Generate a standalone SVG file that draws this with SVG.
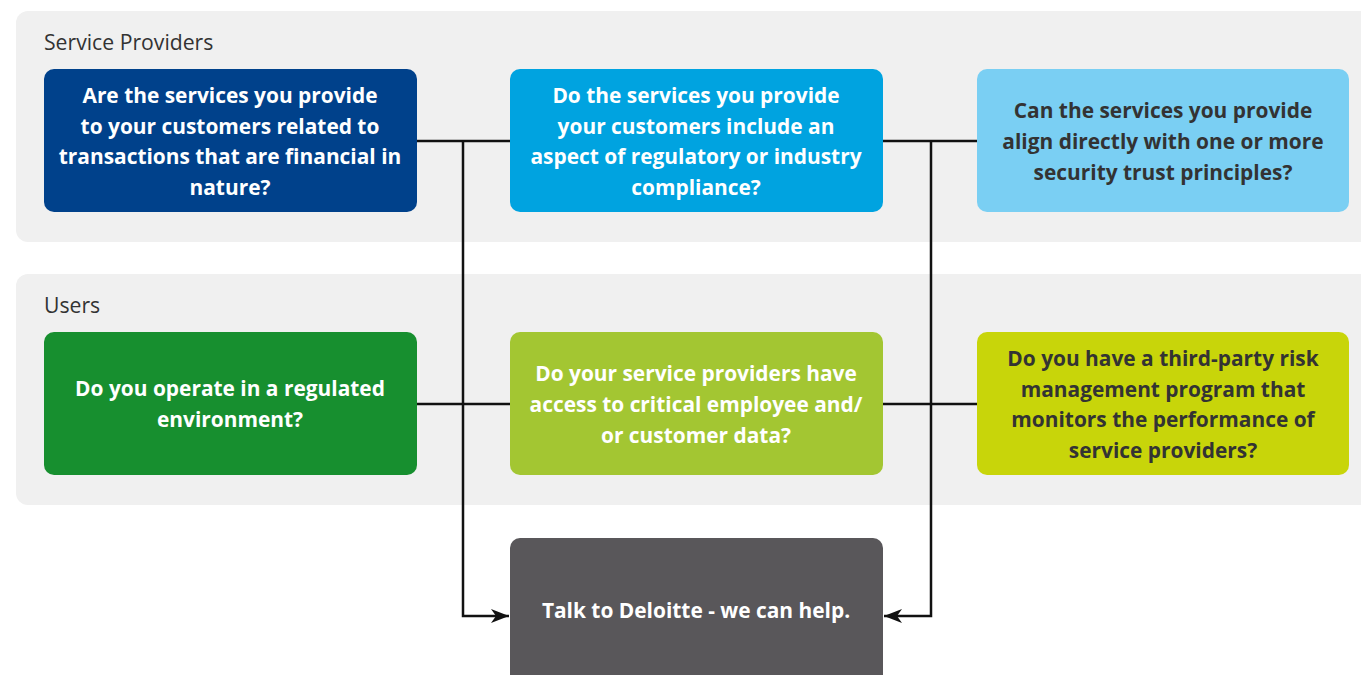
<svg xmlns="http://www.w3.org/2000/svg" width="1361" height="675" viewBox="0 0 1361 675">
<defs>
<style>
.panel{fill:#f0f0f0}
.lbl{font-family:"Open Sans",sans-serif;font-size:21.2px;fill:#333}
.t{font-family:"Open Sans",sans-serif;font-size:20.9px;font-weight:bold;fill:#fff;text-anchor:middle}
.d{fill:#333}
.c{fill:none;stroke:#111;stroke-width:2.5}
</style>
<marker id="a" viewBox="0 0 18 14" refX="18" refY="7" markerWidth="18" markerHeight="14" markerUnits="userSpaceOnUse" orient="auto"><path d="M0,0 L18,7 L0,14 L5,7 z" fill="#111"/></marker>
</defs>
<rect x="16" y="11" width="1360" height="231" rx="12" class="panel"/>
<rect x="16" y="274" width="1360" height="231" rx="12" class="panel"/>
<text x="44" y="50" class="lbl">Service Providers</text>
<text x="44" y="313" class="lbl">Users</text>
<g id="connectors">
<path class="c" d="M417,141 H510"/>
<path class="c" d="M883,141 H977"/>
<path class="c" d="M417,404 H510"/>
<path class="c" d="M883,404 H977"/>
<path class="c" d="M463,141 V616 H509" marker-end="url(#a)"/>
<path class="c" d="M931,141 V616 H884" marker-end="url(#a)"/>
</g>
<g id="n1"><rect x="44" y="69" width="373" height="143" rx="10" fill="#00418B"/>
<text class="t"><tspan x="230" y="103">Are the services you provide</tspan><tspan x="230" y="134">to your customers related to</tspan><tspan x="230" y="164">transactions that are financial in</tspan><tspan x="230" y="195">nature?</tspan></text></g>
<g id="n2"><rect x="510" y="69" width="373" height="143" rx="10" fill="#00A3E0"/>
<text class="t"><tspan x="696" y="103">Do the services you provide</tspan><tspan x="696" y="134">your customers include an</tspan><tspan x="696" y="164">aspect of regulatory or industry</tspan><tspan x="696" y="195">compliance?</tspan></text></g>
<g id="n3"><rect x="977" y="69" width="372" height="143" rx="10" fill="#7ACFF3"/>
<text class="t d"><tspan x="1163" y="118">Can the services you provide</tspan><tspan x="1163" y="149">align directly with one or more</tspan><tspan x="1163" y="180">security trust principles?</tspan></text></g>
<g id="n4"><rect x="44" y="332" width="373" height="143" rx="10" fill="#178F2F"/>
<text class="t"><tspan x="230" y="396">Do you operate in a regulated</tspan><tspan x="230" y="427">environment?</tspan></text></g>
<g id="n5"><rect x="510" y="332" width="373" height="143" rx="10" fill="#A3C632"/>
<text class="t"><tspan x="696" y="381">Do your service providers have</tspan><tspan x="696" y="412">access to critical employee and/</tspan><tspan x="696" y="443">or customer data?</tspan></text></g>
<g id="n6"><rect x="977" y="332" width="372" height="143" rx="10" fill="#C8D50A"/>
<text class="t d"><tspan x="1163" y="366">Do you have a third-party risk</tspan><tspan x="1163" y="397">management program that</tspan><tspan x="1163" y="427">monitors the performance of</tspan><tspan x="1163" y="458">service providers?</tspan></text></g>
<g id="n7"><rect x="510" y="538" width="373" height="160" rx="10" fill="#59575A"/>
<text class="t"><tspan x="696" y="618">Talk to Deloitte - we can help.</tspan></text></g>
</svg>
